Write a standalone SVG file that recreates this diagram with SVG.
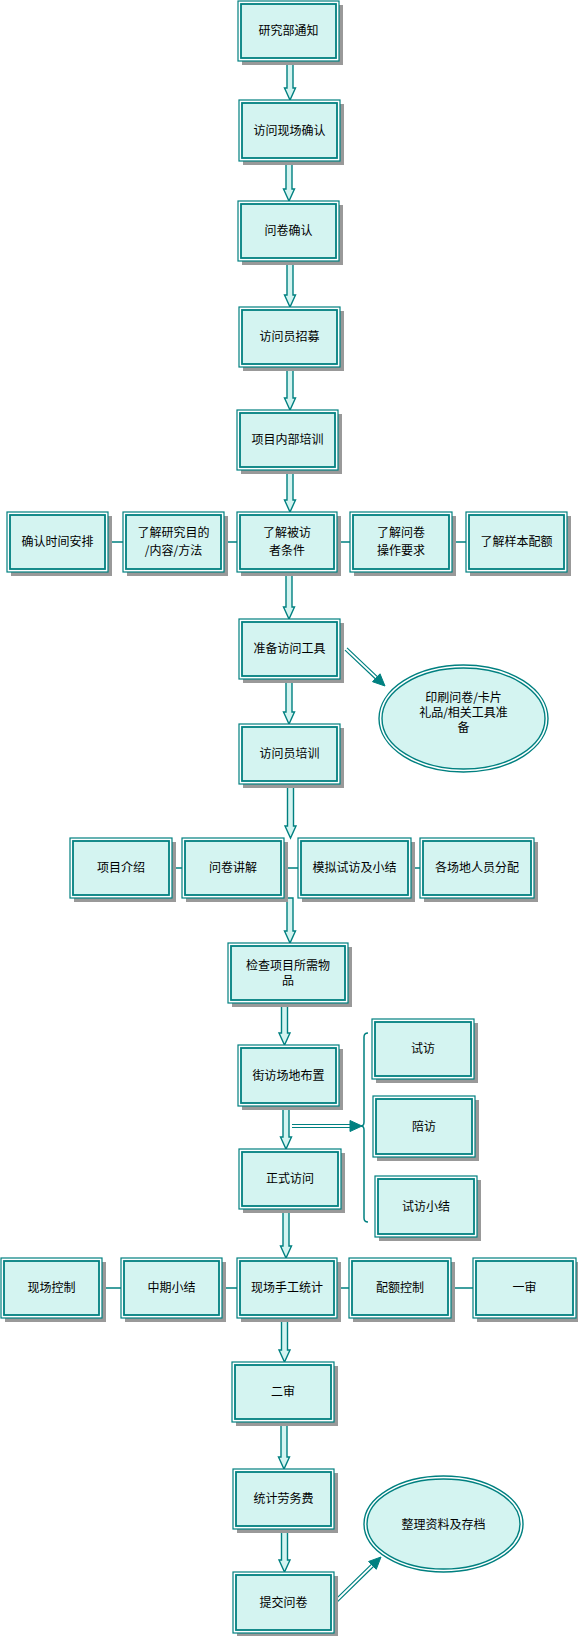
<svg xmlns="http://www.w3.org/2000/svg" width="578" height="1636" viewBox="0 0 578 1636">
<style>
.sh{fill:#999999;stroke:none}
.bo{fill:#ffffff;stroke:#008080;stroke-width:1.2}
.bi{fill:#d4f4f1;stroke:#008080;stroke-width:1.8}
.eo{fill:#ffffff;stroke:#008080;stroke-width:1.4}
.ei{fill:#d4f4f1;stroke:#008080;stroke-width:1.4}
.t{font-family:"Noto Sans CJK SC","Noto Sans",sans-serif;font-size:12px;fill:#000;text-anchor:middle}
.ln{stroke:#008080;stroke-width:1.5;fill:none}
.ar{fill:#d4f4f1;stroke:#008080;stroke-width:1.4;stroke-linejoin:miter}
.dl{stroke:#008080;stroke-width:1.2;fill:none}
.hd{fill:#008080;stroke:#008080;stroke-width:1}
</style>
<rect width="578" height="1636" fill="#ffffff"/>

<g id="connectors">
  <!-- vertical block arrows -->
  <path class="ar" d="M287,61 V88 H284.5 L290,100 L295.5,88 H293 V61 Z"/>
  <path class="ar" d="M286,161 V189 H283.5 L289,201 L294.5,189 H292 V161 Z"/>
  <path class="ar" d="M287,261 V295 H284.5 L290,307 L295.5,295 H293 V261 Z"/>
  <path class="ar" d="M287,367 V398 H284.5 L290,410 L295.5,398 H293 V367 Z"/>
  <path class="ar" d="M287,470 V500 H284.5 L290,512 L295.5,500 H293 V470 Z"/>
  <path class="ar" d="M286,572 V607 H283.5 L289,619 L294.5,607 H292 V572 Z"/>
  <path class="ar" d="M286,679 V712 H283.5 L289,724 L294.5,712 H292 V679 Z"/>
  <path class="ar" d="M287.5,784 V826 H285 L290.5,838 L296,826 H293.5 V784 Z"/>
  <path class="ar" d="M287,898 V931 H284.5 L290,943 L295.5,931 H293 V898 Z"/>
  <path class="ar" d="M281.5,1003 V1033 H279 L284.5,1045 L290,1033 H287.5 V1003 Z"/>
  <path class="ar" d="M283,1106 V1137 H280.5 L286,1149 L291.5,1137 H289 V1106 Z"/>
  <path class="ar" d="M283,1209 V1246 H280.5 L286,1258 L291.5,1246 H289 V1209 Z"/>
  <path class="ar" d="M281.5,1318 V1350 H279 L284.5,1362 L290,1350 H287.5 V1318 Z"/>
  <path class="ar" d="M281,1422 V1457 H278.5 L284,1469 L289.5,1457 H287 V1422 Z"/>
  <path class="ar" d="M281.5,1529 V1560 H279 L284.5,1572 L290,1560 H287.5 V1529 Z"/>

  <!-- row connectors -->
  <path class="ln" d="M108,542 H123 M224,542 H237 M337,542 H350 M452,542 H466"/>
  <path class="ln" d="M172,868 H182 M284,868 H298 M411,868 H420"/>
  <path class="ln" d="M102,1288 H121 M222,1288 H237 M337,1288 H349 M451,1288 H473"/>

  <!-- oblique arrow to ellipse 1 -->
  <path class="dl" d="M344.97,650.09 L375.27,678.79 M347.03,647.91 L377.33,676.61"/>
  <polygon class="hd" points="385,686 372.5,681.7 380,673.8"/>

  <!-- horizontal arrow to bracket -->
  <path class="dl" d="M292,1124.5 H351 M292,1127.5 H351"/>
  <polygon class="hd" points="350,1120.5 362,1126 350,1131.5"/>

  <!-- bracket -->
  <path class="ln" stroke-width="1.2" d="M368,1033 Q364,1033 364,1037 V1122 Q364,1126 361,1126 Q364,1126 364,1130 V1218 Q364,1222 368,1222"/>

  <!-- oblique arrow to ellipse 2 -->
  <path class="dl" d="M336.05,1603.07 L373.48,1566.46 M333.95,1600.93 L371.38,1564.32"/>
  <polygon class="hd" points="381,1557 376.27,1569.32 368.59,1561.46"/>
</g>

<g id="n1"><rect class="sh" x="242" y="5" width="101" height="60"/><rect class="bo" x="238" y="1" width="101" height="60"/><rect class="bi" x="241" y="4" width="95" height="54"/><text class="t" x="288.5" y="35">研究部通知</text></g>
<g id="n2"><rect class="sh" x="243" y="104" width="101" height="61"/><rect class="bo" x="239" y="100" width="101" height="61"/><rect class="bi" x="242" y="103" width="95" height="55"/><text class="t" x="289.5" y="135">访问现场确认</text></g>
<g id="n3"><rect class="sh" x="242" y="205" width="101" height="60"/><rect class="bo" x="238" y="201" width="101" height="60"/><rect class="bi" x="241" y="204" width="95" height="54"/><text class="t" x="288.5" y="235">问卷确认</text></g>
<g id="n4"><rect class="sh" x="243" y="311" width="101" height="60"/><rect class="bo" x="239" y="307" width="101" height="60"/><rect class="bi" x="242" y="310" width="95" height="54"/><text class="t" x="289.5" y="341">访问员招募</text></g>
<g id="n5"><rect class="sh" x="241" y="414" width="101" height="60"/><rect class="bo" x="237" y="410" width="101" height="60"/><rect class="bi" x="240" y="413" width="95" height="54"/><text class="t" x="287.5" y="444">项目内部培训</text></g>

<g id="r1a"><rect class="sh" x="11" y="516" width="101" height="60"/><rect class="bo" x="7" y="512" width="101" height="60"/><rect class="bi" x="10" y="515" width="95" height="54"/><text class="t" x="57.5" y="546">确认时间安排</text></g>
<g id="r1b"><rect class="sh" x="127" y="516" width="101" height="60"/><rect class="bo" x="123" y="512" width="101" height="60"/><rect class="bi" x="126" y="515" width="95" height="54"/><text class="t" x="173.5" y="537">了解研究目的</text><text class="t" x="173.5" y="555">/内容/方法</text></g>
<g id="r1c"><rect class="sh" x="241" y="516" width="100" height="60"/><rect class="bo" x="237" y="512" width="100" height="60"/><rect class="bi" x="240" y="515" width="94" height="54"/><text class="t" x="287" y="537">了解被访</text><text class="t" x="287" y="555">者条件</text></g>
<g id="r1d"><rect class="sh" x="354" y="516" width="102" height="60"/><rect class="bo" x="350" y="512" width="102" height="60"/><rect class="bi" x="353" y="515" width="96" height="54"/><text class="t" x="401" y="537">了解问卷</text><text class="t" x="401" y="555">操作要求</text></g>
<g id="r1e"><rect class="sh" x="470" y="516" width="101" height="60"/><rect class="bo" x="466" y="512" width="101" height="60"/><rect class="bi" x="469" y="515" width="95" height="54"/><text class="t" x="516.5" y="546">了解样本配额</text></g>

<g id="n6"><rect class="sh" x="243" y="623" width="101" height="60"/><rect class="bo" x="239" y="619" width="101" height="60"/><rect class="bi" x="242" y="622" width="95" height="54"/><text class="t" x="289.5" y="653">准备访问工具</text></g>
<g id="e1"><ellipse class="eo" cx="463.5" cy="718.5" rx="84.5" ry="53.5"/><ellipse class="ei" cx="463.5" cy="718.5" rx="81.5" ry="50.5"/><text class="t" x="463.5" y="702">印刷问卷/卡片</text><text class="t" x="463.5" y="717">礼品/相关工具准</text><text class="t" x="463.5" y="732">备</text></g>
<g id="n7"><rect class="sh" x="243" y="728" width="101" height="60"/><rect class="bo" x="239" y="724" width="101" height="60"/><rect class="bi" x="242" y="727" width="95" height="54"/><text class="t" x="289.5" y="758">访问员培训</text></g>

<g id="r2a"><rect class="sh" x="74" y="842" width="102" height="60"/><rect class="bo" x="70" y="838" width="102" height="60"/><rect class="bi" x="73" y="841" width="96" height="54"/><text class="t" x="121" y="872">项目介绍</text></g>
<g id="r2b"><rect class="sh" x="186" y="842" width="102" height="60"/><rect class="bo" x="182" y="838" width="102" height="60"/><rect class="bi" x="185" y="841" width="96" height="54"/><text class="t" x="233" y="872">问卷讲解</text></g>
<g id="r2c"><rect class="sh" x="302" y="842" width="113" height="60"/><rect class="bo" x="298" y="838" width="113" height="60"/><rect class="bi" x="301" y="841" width="107" height="54"/><text class="t" x="354.5" y="872">模拟试访及小结</text></g>
<g id="r2d"><rect class="sh" x="424" y="842" width="114" height="60"/><rect class="bo" x="420" y="838" width="114" height="60"/><rect class="bi" x="423" y="841" width="108" height="54"/><text class="t" x="477" y="872">各场地人员分配</text></g>

<g id="n8"><rect class="sh" x="232" y="947" width="120" height="60"/><rect class="bo" x="228" y="943" width="120" height="60"/><rect class="bi" x="231" y="946" width="114" height="54"/><text class="t" x="288" y="970">检查项目所需物</text><text class="t" x="288" y="985">品</text></g>
<g id="n9"><rect class="sh" x="242" y="1049" width="101" height="61"/><rect class="bo" x="238" y="1045" width="101" height="61"/><rect class="bi" x="241" y="1048" width="95" height="55"/><text class="t" x="288.5" y="1080">街访场地布置</text></g>
<g id="n10"><rect class="sh" x="243" y="1153" width="102" height="60"/><rect class="bo" x="239" y="1149" width="102" height="60"/><rect class="bi" x="242" y="1152" width="96" height="54"/><text class="t" x="290" y="1183">正式访问</text></g>

<g id="s1"><rect class="sh" x="376" y="1023" width="102" height="60"/><rect class="bo" x="372" y="1019" width="102" height="60"/><rect class="bi" x="375" y="1022" width="96" height="54"/><text class="t" x="423" y="1053">试访</text></g>
<g id="s2"><rect class="sh" x="377" y="1100" width="102" height="61"/><rect class="bo" x="373" y="1096" width="102" height="61"/><rect class="bi" x="376" y="1099" width="96" height="55"/><text class="t" x="424" y="1131">陪访</text></g>
<g id="s3"><rect class="sh" x="379" y="1180" width="102" height="61"/><rect class="bo" x="375" y="1176" width="102" height="61"/><rect class="bi" x="378" y="1179" width="96" height="55"/><text class="t" x="426" y="1211">试访小结</text></g>

<g id="r3a"><rect class="sh" x="5" y="1262" width="101" height="60"/><rect class="bo" x="1" y="1258" width="101" height="60"/><rect class="bi" x="4" y="1261" width="95" height="54"/><text class="t" x="51.5" y="1292">现场控制</text></g>
<g id="r3b"><rect class="sh" x="125" y="1262" width="101" height="60"/><rect class="bo" x="121" y="1258" width="101" height="60"/><rect class="bi" x="124" y="1261" width="95" height="54"/><text class="t" x="171.5" y="1292">中期小结</text></g>
<g id="r3c"><rect class="sh" x="241" y="1262" width="100" height="60"/><rect class="bo" x="237" y="1258" width="100" height="60"/><rect class="bi" x="240" y="1261" width="94" height="54"/><text class="t" x="287" y="1292">现场手工统计</text></g>
<g id="r3d"><rect class="sh" x="353" y="1262" width="102" height="60"/><rect class="bo" x="349" y="1258" width="102" height="60"/><rect class="bi" x="352" y="1261" width="96" height="54"/><text class="t" x="400" y="1292">配额控制</text></g>
<g id="r3e"><rect class="sh" x="477" y="1262" width="103" height="60"/><rect class="bo" x="473" y="1258" width="103" height="60"/><rect class="bi" x="476" y="1261" width="97" height="54"/><text class="t" x="524.5" y="1292">一审</text></g>

<g id="n11"><rect class="sh" x="236" y="1366" width="102" height="60"/><rect class="bo" x="232" y="1362" width="102" height="60"/><rect class="bi" x="235" y="1365" width="96" height="54"/><text class="t" x="283" y="1396">二审</text></g>
<g id="n12"><rect class="sh" x="237" y="1473" width="101" height="60"/><rect class="bo" x="233" y="1469" width="101" height="60"/><rect class="bi" x="236" y="1472" width="95" height="54"/><text class="t" x="283.5" y="1503">统计劳务费</text></g>
<g id="n13"><rect class="sh" x="237" y="1576" width="101" height="61"/><rect class="bo" x="233" y="1572" width="101" height="61"/><rect class="bi" x="236" y="1575" width="95" height="55"/><text class="t" x="283.5" y="1607">提交问卷</text></g>
<g id="e2"><ellipse class="eo" cx="443.5" cy="1524" rx="79.5" ry="48"/><ellipse class="ei" cx="443.5" cy="1524" rx="76.5" ry="45"/><text class="t" x="443.5" y="1529">整理资料及存档</text></g>
</svg>
